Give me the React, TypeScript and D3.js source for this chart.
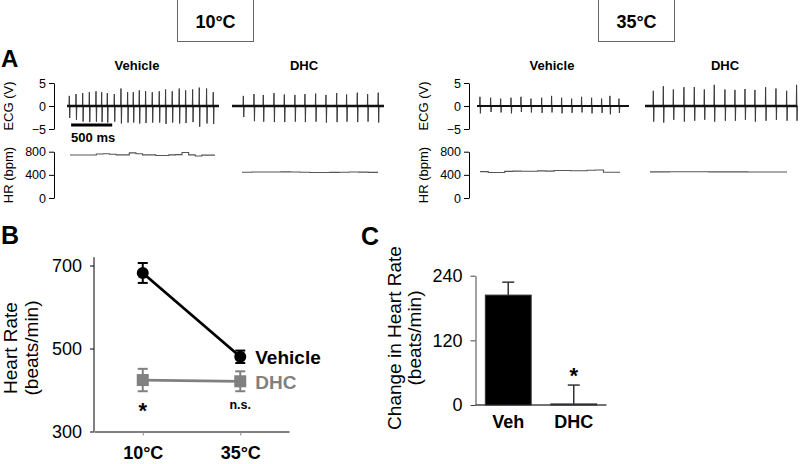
import React, { useRef, useEffect } from 'react';
import * as d3 from 'd3';

const FONT = '"Liberation Sans", Arial, Helvetica, sans-serif';

// ---- panel A: ECG beats (ms from trace start), R peak / S trough (V), HR steps (bpm)
const veh10Beats = [28, 110, 191, 272, 353, 422, 491, 576, 657, 738, 807, 880, 957, 1038, 1123, 1200, 1281, 1366, 1444, 1529, 1610, 1699, 1780];
const veh10Up = [2.2, 2.6, 2.8, 3.0, 3.2, 3.0, 2.8, 2.6, 3.8, 3.0, 3.0, 3.4, 3.2, 3.0, 3.2, 3.6, 3.2, 3.8, 3.4, 3.6, 4.0, 3.8, 3.0];
const veh10Down = [-2.6, -3.0, -3.4, -3.5, -3.4, -3.5, -3.6, -3.4, -3.8, -3.6, -3.6, -3.8, -3.7, -3.6, -3.6, -3.9, -3.6, -3.8, -3.7, -3.5, -4.5, -3.8, -3.9];
const veh10Hr = [743, 743, 743, 743, 760, 765, 755, 745, 745, 780, 765, 745, 745, 735, 735, 745, 750, 785, 745, 725, 740, 740];

const dhc10Beats = [138, 268, 381, 511, 637, 766, 888, 1018, 1144, 1274, 1395, 1525, 1651, 1780];
const dhc10Up = [2.2, 2.6, 2.4, 2.8, 2.5, 2.4, 2.6, 2.7, 2.4, 2.8, 2.5, 2.9, 2.6, 2.9];
const dhc10Down = [-2.4, -3.3, -3.4, -3.5, -3.5, -3.4, -3.5, -3.4, -3.6, -3.5, -3.4, -3.5, -3.4, -3.6];
const dhc10Hr = [445, 448, 450, 450, 452, 448, 446, 440, 440, 442, 445, 450, 447, 443];

const veh35Beats = [36, 166, 288, 414, 535, 657, 787, 908, 1030, 1152, 1273, 1395, 1517, 1618, 1728];
const veh35Up = [2.0, 1.8, 1.6, 1.8, 2.0, 1.6, 1.8, 2.2, 1.8, 1.6, 2.0, 1.8, 1.6, 2.2, 1.6];
const veh35Down = [-1.6, -1.3, -1.4, -1.6, -1.3, -1.4, -1.5, -1.4, -1.6, -1.5, -1.4, -1.6, -1.5, -1.8, -1.5];
const veh35Hr = [455, 440, 440, 460, 465, 462, 462, 468, 465, 475, 475, 470, 472, 480, 485, 445, 445];

const dhc35Beats = [101, 223, 345, 474, 600, 722, 843, 973, 1095, 1217, 1338, 1468, 1594, 1724, 1845];
const dhc35Up = [3.3, 4.3, 3.6, 4.1, 4.1, 3.6, 4.6, 3.6, 3.5, 3.7, 3.5, 4.1, 3.8, 3.3, 4.6];
const dhc35Down = [-3.4, -3.6, -3.0, -3.4, -3.2, -3.0, -3.4, -3.2, -3.2, -3.0, -3.4, -3.2, -3.0, -3.2, -3.2];
const dhc35Hr = [452, 452, 453, 453, 454, 453, 452, 452, 451, 451, 450, 450, 450, 450];

const ecgTicks = [-5, 0, 5];
const hrTicks = [0, 400, 800];

// ---- panel B
const temps = ['10°C', '35°C'];
const vehicleHr = [682, 480];
const vehicleSem = [24, 15];
const dhcHr = [424, 421];
const dhcSem = [27, 24];
const bTicks = [300, 500, 700];

// ---- panel C
const groups = ['Veh', 'DHC'];
const changeHr = [204, 2];
const changeSem = [24, 35];
const cTicks = [0, 120, 240];

const GRAY = '#808080';

function text(g, x, y, str, size, opts: any = {}) {
    const t = g.append('text')
        .attr('x', x)
        .attr('y', y)
        .attr('font-family', FONT)
        .attr('font-size', size)
        .attr('font-weight', opts.bold ? 'bold' : 'normal')
        .attr('text-anchor', opts.anchor || 'start')
        .attr('fill', opts.fill || '#000')
        .text(str);
    if (opts.rotate) t.attr('transform', `rotate(-90,${x},${y})`);
    return t;
}

function styleAxis(ax, size) {
    ax.selectAll('text').attr('font-family', FONT).attr('font-size', size).attr('fill', '#000');
    ax.selectAll('line').attr('stroke', '#000');
    ax.select('.domain').attr('stroke', '#000');
}

function drawTrace(g, x0, beats, up, down, hr, hrStart, hrEnd, baseW) {
    const t = d3.scaleLinear().domain([0, 1850]).range([x0, x0 + 152]);
    const yE = d3.scaleLinear().domain([-5, 5]).range([129, 83]);
    const yH = d3.scaleLinear().domain([0, 800]).range([198, 151.7]);

    const pts: [number, number][] = [[0, 0]];
    beats.forEach((b, i) => {
        pts.push([b - 4, 0], [b, up[i]], [b + 5, down[i]], [b + 10, 0]);
    });
    pts.push([1850, 0]);

    const line = d3.line<[number, number]>().x(d => t(d[0])).y(d => yE(d[1]));

    g.append('path')
        .attr('d', line(pts))
        .attr('stroke', '#3a3a3a')
        .attr('stroke-width', 1)
        .attr('fill', 'none');
    g.append('path')
        .attr('d', line([[0, 0], [1850, 0]]))
        .attr('stroke', '#111')
        .attr('stroke-width', baseW)
        .attr('fill', 'none');

    const xH = d3.scaleLinear().domain([0, hr.length]).range([hrStart, hrEnd]);
    const hrLine = d3.line<number>()
        .x((d, i) => xH(i))
        .y(d => yH(d))
        .curve(d3.curveStepAfter);
    g.append('path')
        .attr('d', hrLine([...hr, hr[hr.length - 1]]))
        .attr('stroke', '#555')
        .attr('stroke-width', 1.1)
        .attr('fill', 'none');
    return t;
}

function drawAAxes(g, ax) {
    const yE = d3.scaleLinear().domain([-5, 5]).range([129, 83]);
    const yH = d3.scaleLinear().domain([0, 800]).range([198, 151.7]);
    const a1 = g.append('g').attr('transform', `translate(${ax},0)`)
        .call(d3.axisLeft(yE).tickValues(ecgTicks).tickSize(5).tickSizeOuter(0).tickPadding(3));
    styleAxis(a1, 12.5);
    const a2 = g.append('g').attr('transform', `translate(${ax},0)`)
        .call(d3.axisLeft(yH).tickValues(hrTicks).tickSize(5).tickSizeOuter(0).tickPadding(3));
    styleAxis(a2, 12.5);
    text(g, ax - 41, 106, 'ECG (V)', 13, { anchor: 'middle', rotate: true });
    text(g, ax - 41, 175, 'HR (bpm)', 13, { anchor: 'middle', rotate: true });
}

function drawHeader(svg) {
    [[177, '10°C'], [598, '35°C']].forEach(([x, lab]: any) => {
        svg.append('rect')
            .attr('x', x + 0.5).attr('y', -1)
            .attr('width', 76).attr('height', 42.5)
            .attr('fill', 'none').attr('stroke', '#666').attr('stroke-width', 1);
        text(svg, x + 38.5, 28, lab, 18, { bold: true, anchor: 'middle' });
    });
}

function drawPanelA(svg) {
    const g = svg.append('g');
    text(g, 1, 67, 'A', 24, { bold: true });

    drawAAxes(g, 54);
    drawAAxes(g, 469);

    text(g, 137, 70, 'Vehicle', 13, { bold: true, anchor: 'middle' });
    text(g, 304, 70, 'DHC', 13, { bold: true, anchor: 'middle' });
    text(g, 552, 70, 'Vehicle', 13, { bold: true, anchor: 'middle' });
    text(g, 725, 70, 'DHC', 13, { bold: true, anchor: 'middle' });

    const t = drawTrace(g, 67, veh10Beats, veh10Up, veh10Down, veh10Hr, 70, 215, 2.6);
    drawTrace(g, 232, dhc10Beats, dhc10Up, dhc10Down, dhc10Hr, 242, 378, 2.4);
    drawTrace(g, 477, veh35Beats, veh35Up, veh35Down, veh35Hr, 480, 620, 1.8);
    drawTrace(g, 645, dhc35Beats, dhc35Up, dhc35Down, dhc35Hr, 650, 787, 2.6);

    // 500 ms scale bar
    g.append('line')
        .attr('x1', t(50)).attr('x2', t(550))
        .attr('y1', 125).attr('y2', 125)
        .attr('stroke', '#000').attr('stroke-width', 3);
    text(g, t(50), 142, '500 ms', 13, { bold: true });
}

function drawPanelB(svg) {
    const g = svg.append('g');
    text(g, 1, 244, 'B', 25, { bold: true });

    const x = d3.scalePoint().domain(temps).range([94, 289]).padding(0.5);
    const y = d3.scaleLinear().domain([300, 700]).range([431.5, 265.5]);

    const ya = g.append('g').attr('transform', 'translate(94,0)')
        .call(d3.axisLeft(y).tickValues(bTicks).tickSize(4).tickPadding(8));
    ya.select('.domain').remove();
    styleAxis(ya, 18);
    g.append('line').attr('x1', 94).attr('x2', 94).attr('y1', y(720)).attr('y2', y(300)).attr('stroke', '#000');

    const xa = g.append('g').attr('transform', `translate(0,${y(300)})`)
        .call(d3.axisBottom(x).tickSize(4).tickSizeOuter(0).tickPadding(11));
    styleAxis(xa, 18);
    xa.selectAll('text').attr('font-weight', 'bold');
    xa.selectAll('.tick line').attr('stroke', '#888');

    text(g, 17, 348, 'Heart Rate', 19, { anchor: 'middle', rotate: true });
    text(g, 38, 348, '(beats/min)', 19, { anchor: 'middle', rotate: true });

    const series = [
        { vals: dhcHr, sem: dhcSem, color: GRAY, shape: 'square' },
        { vals: vehicleHr, sem: vehicleSem, color: '#000', shape: 'circle' },
    ];
    series.forEach(s => {
        const line = d3.line<number>().x((d, i) => x(temps[i])).y(d => y(d));
        g.append('path').attr('d', line(s.vals))
            .attr('stroke', s.color).attr('stroke-width', 2.8).attr('fill', 'none');
        s.vals.forEach((v, i) => {
            const cx = x(temps[i]);
            g.append('line').attr('x1', cx).attr('x2', cx)
                .attr('y1', y(v - s.sem[i])).attr('y2', y(v + s.sem[i]))
                .attr('stroke', s.color).attr('stroke-width', 2);
            [v - s.sem[i], v + s.sem[i]].forEach(e => {
                g.append('line').attr('x1', cx - 5).attr('x2', cx + 5)
                    .attr('y1', y(e)).attr('y2', y(e))
                    .attr('stroke', s.color).attr('stroke-width', 2);
            });
            if (s.shape === 'circle') {
                g.append('circle').attr('cx', cx).attr('cy', y(v)).attr('r', 6).attr('fill', s.color);
            } else {
                g.append('rect').attr('x', cx - 6).attr('y', y(v) - 6)
                    .attr('width', 12).attr('height', 12).attr('fill', s.color);
            }
        });
    });

    const last = temps[temps.length - 1];
    text(g, x(last) + 15, y(vehicleHr[1]) + 7, 'Vehicle', 19, { bold: true });
    text(g, x(last) + 15, y(dhcHr[1]) + 8, 'DHC', 19, { bold: true, fill: GRAY });

    text(g, x(temps[0]), 418, '*', 22, { bold: true, anchor: 'middle' });
    text(g, x(temps[1]), 408.5, 'n.s.', 12.5, { bold: true, anchor: 'middle' });
}

function drawPanelC(svg) {
    const g = svg.append('g');
    text(g, 361, 245, 'C', 25, { bold: true });

    const x = d3.scaleBand().domain(groups).range([475.5, 606.5]).paddingInner(0.3).paddingOuter(0.15);
    const y = d3.scaleLinear().domain([0, 240]).range([405, 275.7]);

    const ya = g.append('g').attr('transform', 'translate(475.5,0)')
        .call(d3.axisLeft(y).tickValues(cTicks).tickSize(5).tickSizeOuter(0).tickPadding(8));
    styleAxis(ya, 18);
    ya.selectAll('line').attr('stroke', '#444');
    ya.select('.domain').attr('stroke', '#444');

    g.append('line').attr('x1', 475.5).attr('x2', 606.5).attr('y1', y(0)).attr('y2', y(0))
        .attr('stroke', '#444').attr('stroke-width', 1.5);

    groups.forEach((grp, i) => {
        const bx = x(grp);
        const bw = x.bandwidth();
        const cx = bx + bw / 2;
        g.append('line').attr('x1', cx).attr('x2', cx)
            .attr('y1', y(changeHr[i])).attr('y2', y(changeHr[i] + changeSem[i]))
            .attr('stroke', '#333').attr('stroke-width', 1.5);
        g.append('line').attr('x1', cx - 6).attr('x2', cx + 6)
            .attr('y1', y(changeHr[i] + changeSem[i])).attr('y2', y(changeHr[i] + changeSem[i]))
            .attr('stroke', '#333').attr('stroke-width', 1.5);
        g.append('rect').attr('x', bx).attr('y', y(changeHr[i]))
            .attr('width', bw).attr('height', y(0) - y(changeHr[i]))
            .attr('fill', '#000').attr('stroke', '#333').attr('stroke-width', 1);
        text(g, cx, 428, grp, 18, { bold: true, anchor: 'middle' });
    });

    text(g, x('DHC') + x.bandwidth() / 2, 383, '*', 22, { bold: true, anchor: 'middle' });

    text(g, 401, 338, 'Change in Heart Rate', 19, { anchor: 'middle', rotate: true });
    text(g, 421, 338, '(beats/min)', 19, { anchor: 'middle', rotate: true });
}

const App = () => {
    const ref = useRef<SVGSVGElement>(null);

    useEffect(() => {
        const svg = d3.select(ref.current);
        svg.selectAll('*').remove();
        drawHeader(svg);
        drawPanelA(svg);
        drawPanelB(svg);
        drawPanelC(svg);
    }, []);

    return (
        <svg ref={ref} width={800} height={464}
            style={{ position: 'absolute', left: 0, top: 0, background: '#fff' }} />
    );
};

export default App;
